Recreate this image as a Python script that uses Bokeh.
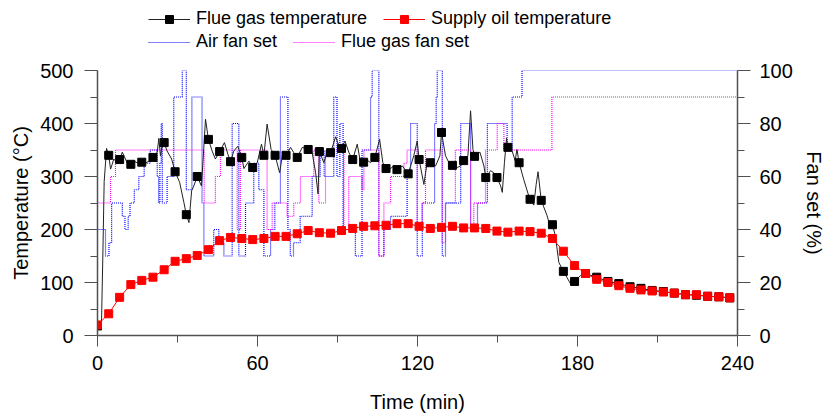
from bokeh.plotting import figure
from bokeh.models import Range1d, LinearAxis, Legend, LegendItem, FixedTicker
from bokeh.layouts import column
from bokeh.embed import file_html
from bokeh.resources import INLINE

# ---- data ----
marker_t = [0, 4.2, 8.3, 12.5, 16.6, 20.8, 25.0, 29.1, 33.3, 37.4, 41.6, 45.8, 49.9, 54.1,
            58.2, 62.4, 66.6, 70.7, 74.9, 79.0, 83.2, 87.4, 91.5, 95.7, 99.8, 104.0, 108.2,
            112.3, 116.5, 120.6, 124.8, 129.0, 133.1, 137.3, 141.4, 145.6, 149.8, 153.9,
            158.1, 162.2, 166.4, 170.6, 174.7, 178.9, 183.0, 187.2, 191.4, 195.5, 199.7,
            203.8, 208.0, 212.2, 216.3, 220.5, 224.6, 228.8, 233.0, 237.1]

supply_oil = [20, 41, 72, 96, 104, 110, 124, 140, 145, 151, 162, 179, 185, 183,
              181, 183, 187, 187, 192, 198, 194, 193, 198, 202, 206, 207, 208,
              211, 211, 206, 202, 204, 206, 203, 203, 202, 197, 195,
              197, 196, 193, 183, 159, 132, 117, 106, 100, 94, 89,
              86, 84, 82, 80, 77, 77, 74, 73, 71]

flue_gas_marked = [18, 340, 332, 323, 327, 336, 364, 309, 228, 300, 370, 347, 328, 336,
                   317, 340, 340, 340, 336, 351, 347, 345, 353, 332, 327, 336, 315,
                   313, 305, 332, 326, 383, 321, 330, 338, 298, 298, 355,
                   326, 257, 255, 209, 121, 102, 117, 110, 102, 98, 92,
                   89, 85, 83, 80, 77, 76, 74, 73, 71]

flue_mid_t = [1.5, 2.0, 2.5, 3.4, 4.9, 5.5, 6.1, 7.4, 9.3, 11.1, 13.6, 14.9, 17.9, 19.3,
              22.4, 23.0, 23.6, 24.3, 26.1, 27.8, 30.8, 32.4, 34.3, 35.3, 36.1, 39.0, 40.5,
              43.0, 44.2, 47.6, 48.9, 51.1, 52.6, 54.9, 56.8, 59.9, 61.5, 63.6, 65.1,
              68.3, 69.3, 72.4, 73.6, 76.8, 80.5, 81.8, 82.7, 84.9, 86.1, 89.3, 90.5,
              92.8, 94.3, 97.4, 98.4, 101.1, 102.4, 105.8, 107.0, 109.9, 111.1, 114.3,
              118.6, 119.9, 122.4, 123.6, 126.8, 128.4, 130.5, 131.8, 134.9, 136.2,
              138.9, 139.9, 140.8, 143.4, 144.9, 147.4, 148.6, 151.2, 151.8, 152.6, 153.4,
              155.5, 156.6, 157.3, 159.8, 161.5, 163.6, 164.5, 165.2, 168.6, 169.8,
              171.7, 173.0, 176.1, 177.8, 181.1]
flue_mid_v = [25, 150, 290, 353, 314, 323, 333, 326, 346, 326, 329, 326, 325, 329,
              346, 372, 339, 358, 348, 333, 289, 251, 213, 273, 282, 282, 408,
              348, 333, 364, 342, 348, 357, 315, 329, 326, 361, 399, 351,
              307, 339, 355, 345, 355, 345, 307, 267, 326, 346, 375, 358,
              367, 345, 361, 333, 331, 326, 370, 326, 315, 320, 320,
              339, 367, 285, 326, 320, 339, 339, 326, 317, 320,
              339, 424, 351, 346, 320, 311, 307, 282, 270, 326, 372,
              348, 330, 351, 295, 267, 246, 285, 309, 226, 204,
              188, 138, 109, 94, 113]

air_fan_t = [0, 3.0, 4.3, 5.3, 9.3, 10.3, 11.5, 12.2, 13.8, 15.5, 17.5, 19.8, 22.4, 22.9,
             23.4, 23.9, 24.3, 26.1, 28.6, 31.8, 33.3, 35.4, 39.2, 39.9, 43.6, 45.5, 47.4,
             50.5, 53.0, 55.5, 58.6, 60.5, 62.4, 64.9, 66.5, 68.6, 71.4, 72.3, 73.5, 76.0,
             80.5, 83.5, 85.0, 88.6, 89.8, 90.9, 92.1, 96.7, 99.2, 102.4, 103.0, 105.5,
             107.4, 109.9, 116.1, 117.4, 119.9, 121.8, 126.4, 127.0, 127.4, 129.3, 130.5,
             136.2, 139.9, 142.5, 146.2, 153.6, 155.5, 159.2, 240]
air_fan = [40, 30, 35, 50, 45, 40, 45, 50, 55, 60, 65, 70, 60, 50,
           65, 80, 50, 60, 90, 100, 55, 90, 50, 30, 40, 35, 30,
           80, 30, 50, 65, 55, 30, 40, 50, 90, 40, 30, 35, 45,
           60, 70, 60, 90, 60, 80, 40, 30, 70, 90, 100, 30,
           40, 45, 60, 80, 30, 50, 80, 90, 100, 30, 50,
           80, 40, 50, 80, 70, 90, 100, 100]

flue_fan_t = [0, 4.9, 6.75, 40.0, 44.2, 46.1, 52.4, 53.6, 63.6, 65.5, 71.1, 73.6, 76.1,
              81.1, 83.0, 85.5, 92.4, 94.2, 99.2, 99.9, 105.5, 107.4, 109.9, 114.9, 116.1,
              119.9, 121.7, 123.0, 129.2, 130.5, 134.2, 139.9, 141.1, 145.5, 149.9, 152.4,
              170.4, 240]
flue_fan = [50, 60, 70, 50, 60, 70, 40, 70, 40, 50, 45, 50, 60,
            70, 50, 70, 40, 60, 55, 70, 30, 50, 60, 65, 70,
            40, 50, 70, 35, 50, 70, 40, 50, 70, 80, 70,
            90, 90]

temp_ticks = [0, 100, 200, 300, 400, 500]
temp_minor = [50, 150, 250, 350, 450]
fan_ticks = [0, 20, 40, 60, 80, 100]
fan_minor = [10, 30, 50, 70, 90]
time_ticks = [0, 60, 120, 180, 240]
time_minor = [30, 90, 150, 210]

# merged flue gas line (marker points + intermediate points)
pairs = sorted(list(zip(marker_t, flue_gas_marked)) + list(zip(flue_mid_t, flue_mid_v)))
flue_line_t = [a for a, b in pairs]
flue_line_v = [b for a, b in pairs]

FONT = "Liberation Sans"
AX = "#505050"
W = 827
H = 415
TOP_H = 53
FRAME_L = 97

# ---------------- main chart ----------------
p = figure(width=W, height=H - TOP_H, output_backend="svg", toolbar_location=None,
           x_range=Range1d(0, 240), y_range=Range1d(0, 500),
           min_border_left=FRAME_L, min_border_right=W - 737, min_border_top=17,
           min_border_bottom=H - 335)
p.outline_line_color = None
p.grid.visible = False
p.extra_y_ranges = {"fan": Range1d(0, 100)}


def style_axis(ax, label, ticks, minor, tick_out):
    ax.ticker = FixedTicker(ticks=ticks, minor_ticks=minor)
    ax.axis_label = label
    ax.axis_label_text_font = FONT
    ax.axis_label_text_font_size = "20px"
    ax.axis_label_text_font_style = "normal"
    ax.axis_label_text_color = "black"
    ax.major_label_text_font = FONT
    ax.major_label_text_font_size = "20px"
    ax.major_label_text_color = "black"
    ax.axis_line_color = AX
    ax.axis_line_width = 1.5
    ax.major_tick_line_color = AX
    ax.minor_tick_line_color = AX
    ax.major_tick_in = 0
    ax.minor_tick_in = 0
    ax.major_tick_out = tick_out
    ax.minor_tick_out = 7


xa = p.xaxis[0]
style_axis(xa, "Time (min)", time_ticks, time_minor, 11)
xa.major_label_standoff = 9
xa.axis_label_standoff = 18

ya = p.yaxis[0]
style_axis(ya, "Temperature (°C)", temp_ticks, temp_minor, 13)
ya.major_label_standoff = 11
ya.axis_label_standoff = 5

ra = LinearAxis(y_range_name="fan")
style_axis(ra, "Fan set (%)", fan_ticks, fan_minor, 13)
ra.major_label_standoff = 9
ra.axis_label_standoff = 7
p.add_layout(ra, "right")

AIR = dict(line_color="#0000FF", line_width=1.2, line_dash="1 1")
FFAN = dict(line_color="#FF00FF", line_width=1.2, line_dash="1 1")
FLINE = dict(line_color="#222222", line_width=1)
FMARK = dict(marker="square", size=8, fill_color="black", line_color="black")
SLINE = dict(line_color="#FF0000", line_width=1)
SMARK = dict(marker="square", size=8, fill_color="#FF0000", line_color="#FF0000")

p.step(air_fan_t, air_fan, mode="after", y_range_name="fan", **AIR)
p.step(flue_fan_t, flue_fan, mode="after", y_range_name="fan", **FFAN)
p.line(flue_line_t, flue_line_v, **FLINE)
p.scatter(marker_t, flue_gas_marked, **FMARK)
p.line(marker_t, supply_oil, **SLINE)
p.scatter(marker_t, supply_oil, **SMARK)

# ---------------- legend strip ----------------
top = figure(width=W, height=TOP_H, output_backend="svg", toolbar_location=None,
             x_range=Range1d(0, 1), y_range=Range1d(0, 1),
             x_axis_location=None, y_axis_location=None, min_border=0)
top.outline_line_color = None
top.grid.visible = False

# stand-in renderers (off-range) that carry the legend glyph styles
off_x = [-5, -4]
off_y = [-5, -4]
l_fl = top.line(off_x, off_y, **FLINE)
l_fm = top.scatter(off_x, off_y, **FMARK)
l_sl = top.line(off_x, off_y, **SLINE)
l_sm = top.scatter(off_x, off_y, **SMARK)
l_air = top.line(off_x, off_y, **AIR)
l_ffan = top.line(off_x, off_y, **FFAN)


def make_legend(items, loc):
    lg = Legend(items=items, location=loc, orientation="horizontal")
    lg.glyph_width = 42
    lg.glyph_height = 20
    lg.label_height = 20
    lg.label_standoff = 6
    lg.spacing = 16
    lg.padding = 1
    lg.margin = 0
    lg.border_line_alpha = 0
    lg.background_fill_alpha = 0
    lg.label_text_font = FONT
    lg.label_text_font_size = "18px"
    lg.label_text_color = "black"
    return lg


# the strip's frame is aligned with the main chart's frame (left edge at FRAME_L)
leg1 = make_legend([LegendItem(label="Flue gas temperature", renderers=[l_fl, l_fm]),
                    LegendItem(label="Supply oil temperature", renderers=[l_sl, l_sm])],
                   (147 - FRAME_L, 23))
leg2 = make_legend([LegendItem(label="Air fan set", renderers=[l_air]),
                    LegendItem(label="Flue gas fan set", renderers=[l_ffan])],
                   (147 - FRAME_L, 0))
top.add_layout(leg1)
top.add_layout(leg2)

layout = column(top, p, spacing=0)
open("out.html", "w").write(file_html(layout, INLINE))
